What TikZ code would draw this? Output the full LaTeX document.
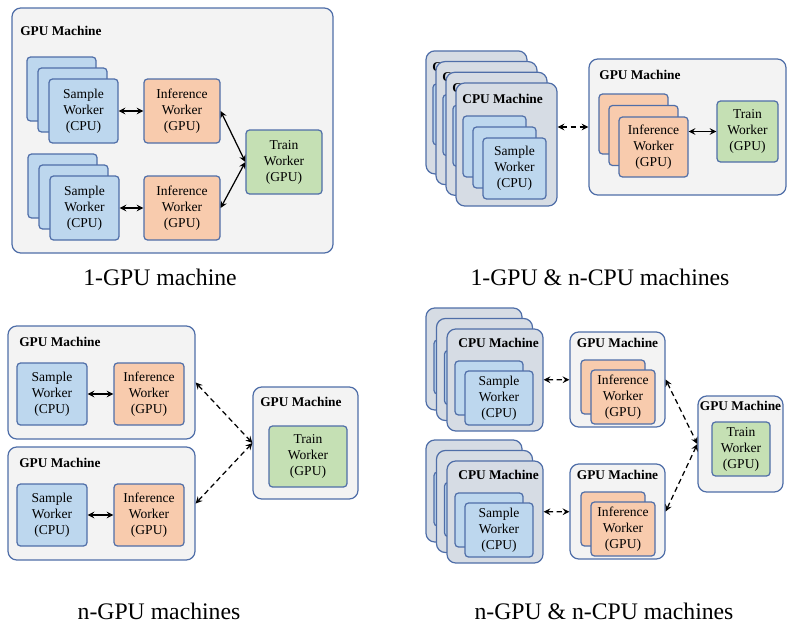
\documentclass[tikz,border=0pt]{standalone}
\usepackage{fontspec}
\setmainfont{Liberation Serif}
\usetikzlibrary{fit}

\definecolor{edgeblue}{RGB}{79,110,168}
\definecolor{gpufill}{RGB}{243,243,243}
\definecolor{cpufill}{RGB}{214,220,228}
\definecolor{samplefill}{RGB}{189,215,238}
\definecolor{inffill}{RGB}{248,203,173}
\definecolor{trainfill}{RGB}{197,224,180}

\tikzset{
  wbox/.style={draw=edgeblue, line width=0.7pt, inner sep=0pt, align=center,
    font=\fontsize{7.7}{9.1}\selectfont},
  wsize/.style 2 args={minimum width=#1*0.02cm, minimum height=#2*0.02cm},
  samplebox/.style={wbox, fill=samplefill, rounded corners=2pt},
  infbox/.style={wbox, fill=inffill, rounded corners=2pt},
  trainbox/.style={wbox, fill=trainfill, rounded corners=2pt},
  gpubox/.style={wbox, fill=gpufill, rounded corners=5pt},
  cpubox/.style={wbox, fill=cpufill, rounded corners=5pt},
  mname/.style={font=\bfseries\fontsize{7.6}{9}\selectfont, inner sep=0pt},
  capt/.style={font=\fontsize{13.5}{16}\selectfont},
  link/.style={<->, >=stealth, line width=0.7pt},
  dlink/.style={link, dash pattern=on 3pt off 2pt},
}

\begin{document}
\begin{tikzpicture}[x=0.02cm,y=-0.02cm]
  \useasboundingbox (0,0) rectangle (800,632);

  % 1-GPU machine
  \node[gpubox, fit={(12,8) (333,253)}] (gA) {};
  \node[mname, anchor=west] (gAname) at (20,31) {GPU Machine};
  \foreach \i in {2,1} {
    \node[samplebox, wsize={69}{64}] (sA\i) at (83.5-11*\i,111-11*\i) {};
    \node[samplebox, wsize={69}{64}] (tA\i) at (84.5-11*\i,208-11*\i) {};
  }
  \node[samplebox, wsize={69}{64}] (sA0) at (83.5,111) {Sample\\Worker\\(CPU)};
  \node[samplebox, wsize={69}{64}] (tA0) at (84.5,208) {Sample\\Worker\\(CPU)};
  \node[infbox, wsize={76}{64}] (iA) at (182,111) {Inference\\Worker\\(GPU)};
  \node[infbox, wsize={76}{64}] (jA) at (182,208) {Inference\\Worker\\(GPU)};
  \node[trainbox, wsize={76}{64}] (rA) at (284,162) {Train\\Worker\\(GPU)};
  \draw[link] (sA0) -- (iA);
  \draw[link] (tA0) -- (jA);
  \draw[link] (iA.east) -- (rA.west);
  \draw[link] (jA.east) -- (rA.west);
  \node[capt] (capA) at (160,277) {1-GPU machine};

  % 1-GPU & n-CPU machines
  \foreach \i in {3,2,1,0} {
    \pgfmathsetmacro\X{456-10*\i}
    \pgfmathsetmacro\Y{83-10.7*\i}
    \node[cpubox, fit={(\X,\Y) (\X+101,\Y+123)}] (cB\i) {};
    \node[mname, anchor=west] (cB\i name) at (\X+6,\Y+16) {\ifnum\i=0 CPU Machine\else C\fi};
    \foreach \j in {2,1}
      \node[samplebox, wsize={63}{61}] (sB\i\j) at (\X+58.5-10*\j,\Y+85.5-11*\j) {};
    \node[samplebox, wsize={63}{61}] (sB\i0) at (\X+58.5,\Y+85.5) {\ifnum\i=0 Sample\\Worker\\(CPU)\fi};
  }
  \node[gpubox, fit={(589,59) (786,195)}] (gB) {};
  \node[mname, anchor=west] (gBname) at (599,75) {GPU Machine};
  \foreach \i in {2,1}
    \node[infbox, wsize={69}{60}] (iB\i) at (653.5-10*\i,147-11.5*\i) {};
  \node[infbox, wsize={69}{60}] (iB0) at (653.5,147) {Inference\\Worker\\(GPU)};
  \node[trainbox, wsize={61}{61}] (rB) at (747.5,131.5) {Train\\Worker\\(GPU)};
  \draw[dlink] (cB0.east |- gB.west) -- (gB.west);
  \draw[link] (iB0.east |- rB.west) -- (rB.west);
  \node[capt] (capB) at (600,277) {1-GPU \& n-CPU machines};

  % n-GPU machines
  \foreach \k/\T in {1/0,2/121} {
    \node[gpubox, fit={(8,326+\T) (195,439+\T)}] (gC\k) {};
    \node[mname, anchor=west] at (19,342+\T) {GPU Machine};
    \node[samplebox, wsize={70}{62}] (sC\k) at (52,394+\T) {Sample\\Worker\\(CPU)};
    \node[infbox, wsize={70}{62}] (iC\k) at (149,394+\T) {Inference\\Worker\\(GPU)};
    \draw[link] (sC\k) -- (iC\k);
  }
  \node[gpubox, fit={(253,387) (358,499)}] (gC3) {};
  \node[mname, anchor=west] (gC3name) at (260,402) {GPU Machine};
  \node[trainbox, wsize={78}{61}] (rC) at (308,456.5) {Train\\Worker\\(GPU)};
  \draw[dlink] (gC1.east) -- (gC3.west);
  \draw[dlink] (gC2.east) -- (gC3.west);
  \node[capt] (capC) at (159,611) {n-GPU machines};

  % n-GPU & n-CPU machines
  \foreach \k/\T in {1/0,2/132} {
    \foreach \i in {2,1,0} {
      \pgfmathsetmacro\X{447-10.5*\i}
      \pgfmathsetmacro\Y{329+\T-10.5*\i}
      \node[cpubox, fit={(\X,\Y) (\X+96,\Y+102)}] (cD\k\i) {};
      \node[samplebox, wsize={68}{54}] (sD\k\i1) at (\X+42,\Y+59) {};
      \node[samplebox, wsize={68}{54}] (sD\k\i0) at (\X+52,\Y+69) {\ifnum\i=0 Sample\\Worker\\(CPU)\fi};
    }
    \node[mname, anchor=west] (cD\k name) at (458,343+\T) {CPU Machine};
    \node[gpubox, fit={(570,332+\T) (665,427+\T)}] (gD\k) {};
    \node[mname] (gD\k name) at (617.5,343+\T) {GPU Machine};
    \node[infbox, wsize={64}{54}] (iD\k1) at (613,387+\T) {};
    \node[infbox, wsize={64}{54}] (iD\k0) at (623,397+\T) {Inference\\Worker\\(GPU)};
    \draw[dlink] (cD\k0) -- (gD\k);
  }
  \node[gpubox, fit={(698,396) (783,492)}] (gD3) {};
  \node[mname] (gD3name) at (740.5,406) {GPU Machine};
  \node[trainbox, wsize={58}{54}] (rD) at (741,449) {Train\\Worker\\(GPU)};
  \draw[dlink] (gD1.east) -- (gD3.west);
  \draw[dlink] (gD2.east) -- (gD3.west);
  \node[capt] (capD) at (604,611) {n-GPU \& n-CPU machines};
\end{tikzpicture}
\end{document}
